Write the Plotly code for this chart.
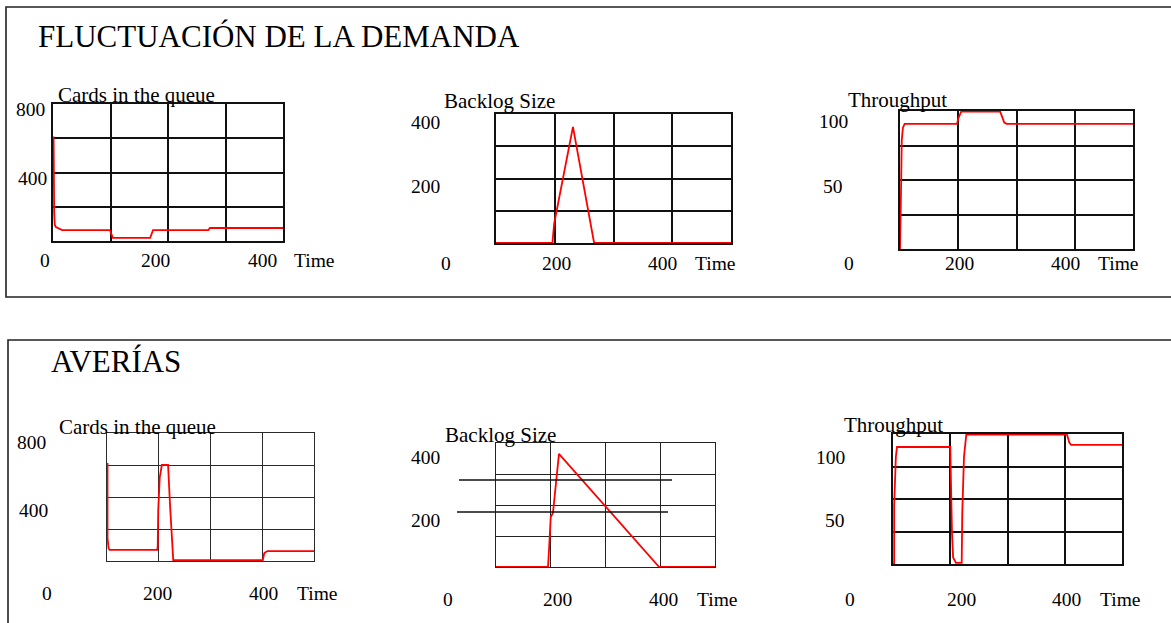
import plotly.graph_objects as go

W, H = 1171, 623

# ---------------- DATA ----------------
section_titles = ["FLUCTUACIÓN DE LA DEMANDA", "AVERÍAS"]
panel_titles = ["Cards in the queue", "Backlog Size", "Throughput"]
x_tick_labels = ["0", "200", "400", "Time"]
y_tick_labels_queue = ["800", "400"]
y_tick_labels_backlog = ["400", "200"]
y_tick_labels_throughput = ["100", "50"]

# Demand fluctuation
dem_queue_t = [1, 1, 2, 3, 5, 16, 99, 104, 169, 174, 270, 273, 400]
dem_queue_v = [610, 380, 170, 95, 82, 64, 64, 18, 18, 64, 64, 76, 76]

dem_backlog_t = [0, 96, 97, 99, 131, 167, 400]
dem_backlog_v = [0, 0, 20, 60, 360, 0, 0]

dem_thr_t = [0, 1, 2, 3, 5, 8, 98, 100, 105, 172, 175, 179, 183, 400]
dem_thr_v = [0, 50, 52, 85, 95, 98, 98, 102, 107.5, 107.5, 103, 99, 98, 98]

# Breakdowns
fail_queue_t = [1, 1, 3, 5, 97, 98, 99, 102, 106, 118, 122, 126, 128, 301, 304, 310, 400]
fail_queue_v = [612, 144, 80, 69, 69, 90, 319, 525, 600, 600, 337, 112, 6, 6, 50, 62, 62]

fail_backlog_t = [0, 95, 97, 100, 104, 111, 115, 298, 400]
fail_backlog_v = [0, 0, 61, 161, 174, 300, 365, 0, 0]

fail_thr_t = [0, 2, 2, 5, 7, 100, 103, 105, 110, 120, 121, 124, 128, 304, 308, 311, 400]
fail_thr_v = [0, 0, 54, 99, 108, 108, 29, 6, 1, 1, 47, 99, 119.5, 119.5, 112, 110, 110]

# ---------------- LAYOUT HELPERS ----------------
def fx(x):
    return x / W

def fy(y):
    return 1 - y / H

FONT = "Liberation Serif, Times New Roman, serif"
TICK_SIZE = 19.5
PTITLE_SIZE = 21

panels = [
    dict(t=dem_queue_t, v=dem_queue_v, ymax=800, ydt=200, box=(53, 283, 104, 241),
         title=panel_titles[0], tpos=(56, 95), ylab=y_tick_labels_queue, ypos=[(30, 109), (32, 178)],
         xly=260, xlx=[45, 155, 262, 314], gc="#111", gw=1.6),
    dict(t=dem_backlog_t, v=dem_backlog_v, ymax=400, ydt=100, box=(496, 731, 114, 243),
         title=panel_titles[1], tpos=(442, 101), ylab=y_tick_labels_backlog, ypos=[(425, 123), (425, 186)],
         xly=263, xlx=[446, 556, 662, 715], gc="#111", gw=1.6),
    dict(t=dem_thr_t, v=dem_thr_v, ymax=108, ydt=27, box=(900, 1133, 111, 249),
         title=panel_titles[2], tpos=(846, 100), ylab=y_tick_labels_throughput, ypos=[(833, 122), (833, 186)],
         xly=263, xlx=[849, 959, 1065, 1118], gc="#111", gw=1.6),
    dict(t=fail_queue_t, v=fail_queue_v, ymax=800, ydt=200, box=(107, 314, 433, 561),
         title=panel_titles[0], tpos=(57, 427), ylab=y_tick_labels_queue, ypos=[(31, 442), (33, 510)],
         xly=593, xlx=[47, 157, 263, 317], gc="#2a2a2a", gw=1.4),
    dict(t=fail_backlog_t, v=fail_backlog_v, ymax=400, ydt=100, box=(496, 715, 443, 567),
         title=panel_titles[1], tpos=(443, 435), ylab=y_tick_labels_backlog, ypos=[(426, 457), (426, 520)],
         xly=599, xlx=[448, 557, 663, 717], gc="#222", gw=1.4),
    dict(t=fail_thr_t, v=fail_thr_v, ymax=120, ydt=30, box=(893, 1122, 434, 564),
         title=panel_titles[2], tpos=(842, 425), ylab=y_tick_labels_throughput, ypos=[(830, 457), (835, 520)],
         xly=599, xlx=[850, 961, 1066, 1120], gc="#111", gw=1.5),
]

fig = go.Figure()
layout = dict(
    width=W, height=H,
    margin=dict(l=0, r=0, t=0, b=0),
    paper_bgcolor="white", plot_bgcolor="white",
    showlegend=False,
    font=dict(family=FONT, color="black", size=TICK_SIZE),
)
annotations = []
shapes = []

for i, p in enumerate(panels, start=1):
    xa = "x" if i == 1 else f"x{i}"
    ya = "y" if i == 1 else f"y{i}"
    fig.add_trace(go.Scatter(
        x=p["t"], y=p["v"], mode="lines",
        line=dict(color="#ff0000", width=1.8),
        xaxis=xa, yaxis=ya, hoverinfo="skip",
    ))
    x0, x1, y0, y1 = p["box"]
    common = dict(showgrid=True, gridcolor=p["gc"], gridwidth=p["gw"],
                  showline=True, mirror=True, linecolor=p["gc"], linewidth=p["gw"],
                  showticklabels=False, ticks="", zeroline=False, fixedrange=True,
                  layer="below traces")
    layout[f"xaxis{i}" if i > 1 else "xaxis"] = dict(
        domain=[fx(x0), fx(x1)], range=[0, 400], tick0=0, dtick=100,
        anchor=ya, **common)
    layout[f"yaxis{i}" if i > 1 else "yaxis"] = dict(
        domain=[fy(y1), fy(y0)], range=[0, p["ymax"]], tick0=0, dtick=p["ydt"],
        anchor=xa, **common)

    annotations.append(dict(text=p["title"], x=fx(p["tpos"][0]), y=fy(p["tpos"][1]),
                            xref="paper", yref="paper", xanchor="left", yanchor="middle",
                            showarrow=False, font=dict(size=PTITLE_SIZE)))
    for lab, (lx, ly) in zip(p["ylab"], p["ypos"]):
        annotations.append(dict(text=lab, x=fx(lx), y=fy(ly), xref="paper", yref="paper",
                                xanchor="center", yanchor="middle", showarrow=False,
                                font=dict(size=TICK_SIZE)))
    for lab, lx in zip(x_tick_labels, p["xlx"]):
        annotations.append(dict(text=lab, x=fx(lx), y=fy(p["xly"]), xref="paper", yref="paper",
                                xanchor="center", yanchor="middle", showarrow=False,
                                font=dict(size=TICK_SIZE)))

annotations.append(dict(text=section_titles[0], x=fx(36), y=fy(36), xref="paper", yref="paper",
                        xanchor="left", yanchor="middle", showarrow=False, font=dict(size=31)))
annotations.append(dict(text=section_titles[1], x=fx(49), y=fy(361), xref="paper", yref="paper",
                        xanchor="left", yanchor="middle", showarrow=False, font=dict(size=31)))

shapes.append(dict(type="rect", xref="paper", yref="paper",
                   x0=fx(6), x1=fx(1190), y0=fy(297), y1=fy(7),
                   line=dict(color="#222", width=1.6)))
shapes.append(dict(type="rect", xref="paper", yref="paper",
                   x0=fx(8), x1=fx(1190), y0=fy(640), y1=fy(340),
                   line=dict(color="#222", width=1.6)))

# stray horizontal strokes present in the original backlog panel
shapes.append(dict(type="line", xref="paper", yref="paper",
                   x0=fx(459), x1=fx(672), y0=fy(480), y1=fy(480),
                   line=dict(color="#111", width=1.5)))
shapes.append(dict(type="line", xref="paper", yref="paper",
                   x0=fx(457), x1=fx(668), y0=fy(512), y1=fy(512),
                   line=dict(color="#111", width=1.5)))

layout["annotations"] = annotations
layout["shapes"] = shapes
fig.update_layout(**layout)

fig.write_html("out.html",
               config={"displayModeBar": False},
               post_script="document.body.style.margin='0px';document.body.style.overflow='hidden';")
